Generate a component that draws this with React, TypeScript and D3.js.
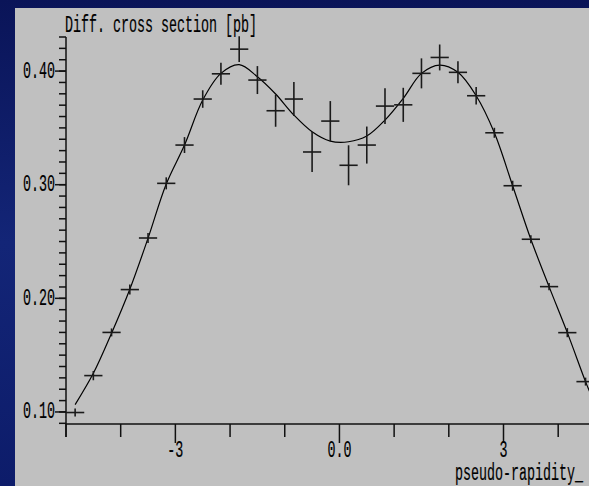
import React from "react";
import * as d3 from "d3";

// Bin centres (pseudo-rapidity) and measured differential cross sections [pb]
const binCenters = [
  -4.833, -4.5, -4.167, -3.833, -3.5, -3.167, -2.833, -2.5, -2.167, -1.833,
  -1.5, -1.167, -0.833, -0.5, -0.167, 0.167, 0.5, 0.833, 1.167, 1.5,
  1.833, 2.167, 2.5, 2.833, 3.167, 3.5, 3.833, 4.167, 4.5,
];
const crossSection = [
  0.0995, 0.132, 0.17, 0.2077, 0.2531, 0.3012, 0.3349, 0.3754, 0.3976, 0.4193,
  0.3921, 0.3651, 0.3754, 0.3288, 0.356, 0.3171, 0.3349, 0.3692, 0.3703, 0.398,
  0.412, 0.3989, 0.3783, 0.3457, 0.2991, 0.252, 0.2103, 0.1698, 0.1267,
];
const crossSectionErr = [
  0.0035, 0.0041, 0.0035, 0.0044, 0.0044, 0.0053, 0.007, 0.0077, 0.0097, 0.0114,
  0.0123, 0.0141, 0.015, 0.0176, 0.0176, 0.0176, 0.0163, 0.0158, 0.015, 0.0132,
  0.0114, 0.0097, 0.0077, 0.0044, 0.0044, 0.0035, 0.0031, 0.004, 0.0035,
];
const binHalfWidth = 1 / 6;

// Fitted curve
const fitEta = [
  -4.833, -4.5, -4.167, -3.833, -3.5, -3.167, -2.833, -2.5, -2.167, -1.833,
  -1.5, -1.167, -0.833, -0.5, -0.167, 0.167, 0.5, 0.833, 1.167, 1.5,
  1.833, 2.167, 2.5, 2.833, 3.167, 3.5, 3.833, 4.167, 4.5, 4.6,
];
const fitValue = [
  0.1065, 0.134, 0.1693, 0.208, 0.2529, 0.3006, 0.3349, 0.3745, 0.398, 0.4057,
  0.395, 0.3798, 0.3613, 0.3466, 0.3384, 0.3378, 0.3428, 0.3569, 0.376, 0.398,
  0.4053, 0.3989, 0.3783, 0.3457, 0.2991, 0.252, 0.2103, 0.1698, 0.1267, 0.115,
];

const yMajorTicks = [0.1, 0.2, 0.3, 0.4];
const yMajorLabels = ["0.10", "0.20", "0.30", "0.40"];
const xTicks = [-5, -4, -3, -2, -1, 0, 1, 2, 3, 4];
const xMajorTicks = [-3, 0, 3];
const xMajorLabels = ["-3", "0.0", "3"];

const W = 589;
const H = 486;
const FONT = "'Liberation Mono', 'DejaVu Sans Mono', monospace";

function Label({ x, y, text, anchor = "start" }: { x: number; y: number; text: string; anchor?: string }) {
  return (
    <text
      transform={`translate(${x},${y}) scale(0.58,1)`}
      fontFamily={FONT}
      fontSize={23}
      fill="#000"
      stroke="#000"
      strokeWidth={0.2}
      textAnchor={anchor as any}
    >
      {text}
    </text>
  );
}

export default function App() {
  const x = d3.scaleLinear().domain([-5, 4.6]).range([66, 591]);
  const y = d3.scaleLinear().domain([0.0894, 0.43]).range([424, 37]);

  const minorY = d3.range(9, 44).map((v) => v / 100);

  const line = d3
    .line<number>()
    .x((_, i) => x(fitEta[i]))
    .y((d) => y(d))
    .curve(d3.curveCatmullRom.alpha(0.5));

  const ink = "#111";

  return (
    <div style={{ position: "absolute", left: 0, top: 0 }}>
      <svg width={W} height={H} style={{ display: "block" }}>
        <defs>
          <linearGradient id="bg" x1="0" y1="0" x2="0" y2="1">
            <stop offset="0" stopColor="#0a1458" />
            <stop offset="0.5" stopColor="#132577" />
            <stop offset="1" stopColor="#0d1c6a" />
          </linearGradient>
        </defs>
        <rect x={0} y={0} width={W} height={H} fill="url(#bg)" />
        <rect x={15} y={8} width={W - 15} height={H - 8} fill="#c0c0c0" />

        {/* y axis */}
        <line x1={66} x2={66} y1={y(0.43)} y2={437} stroke={ink} strokeWidth={1.5} />
        {minorY.map((v) => (
          <line key={"ym" + v} x1={59} x2={66} y1={y(v)} y2={y(v)} stroke={ink} strokeWidth={1.5} />
        ))}
        {yMajorTicks.map((v, i) => (
          <g key={"yM" + v}>
            <line x1={55} x2={66} y1={y(v)} y2={y(v)} stroke={ink} strokeWidth={1.5} />
            <Label x={55} y={y(v) + 6.5} text={yMajorLabels[i]} anchor="end" />
          </g>
        ))}

        {/* x axis */}
        <line x1={66} x2={W} y1={424} y2={424} stroke={ink} strokeWidth={1.5} />
        {xTicks.map((v) => (
          <line
            key={"xt" + v}
            x1={x(v)}
            x2={x(v)}
            y1={424}
            y2={xMajorTicks.includes(v) ? 443 : 437}
            stroke={ink}
            strokeWidth={1.5}
          />
        ))}
        {xMajorTicks.map((v, i) => (
          <Label key={"xl" + v} x={x(v)} y={457} text={xMajorLabels[i]} anchor="middle" />
        ))}

        <Label x={65} y={31.5} text="Diff. cross section [pb]" />
        <Label x={455} y={480} text="pseudo-rapidity_" />

        {/* fit */}
        <path d={line(fitValue) || ""} fill="none" stroke="#000" strokeWidth={1.2} />

        {/* data points with error bars */}
        {binCenters.map((c, i) => (
          <g key={"p" + i} stroke="#1a1a1a" strokeWidth={1.6}>
            <line x1={x(c - binHalfWidth)} x2={x(c + binHalfWidth)} y1={y(crossSection[i])} y2={y(crossSection[i])} />
            <line
              x1={x(c)}
              x2={x(c)}
              y1={y(crossSection[i] - crossSectionErr[i])}
              y2={y(crossSection[i] + crossSectionErr[i])}
            />
          </g>
        ))}
      </svg>
    </div>
  );
}
